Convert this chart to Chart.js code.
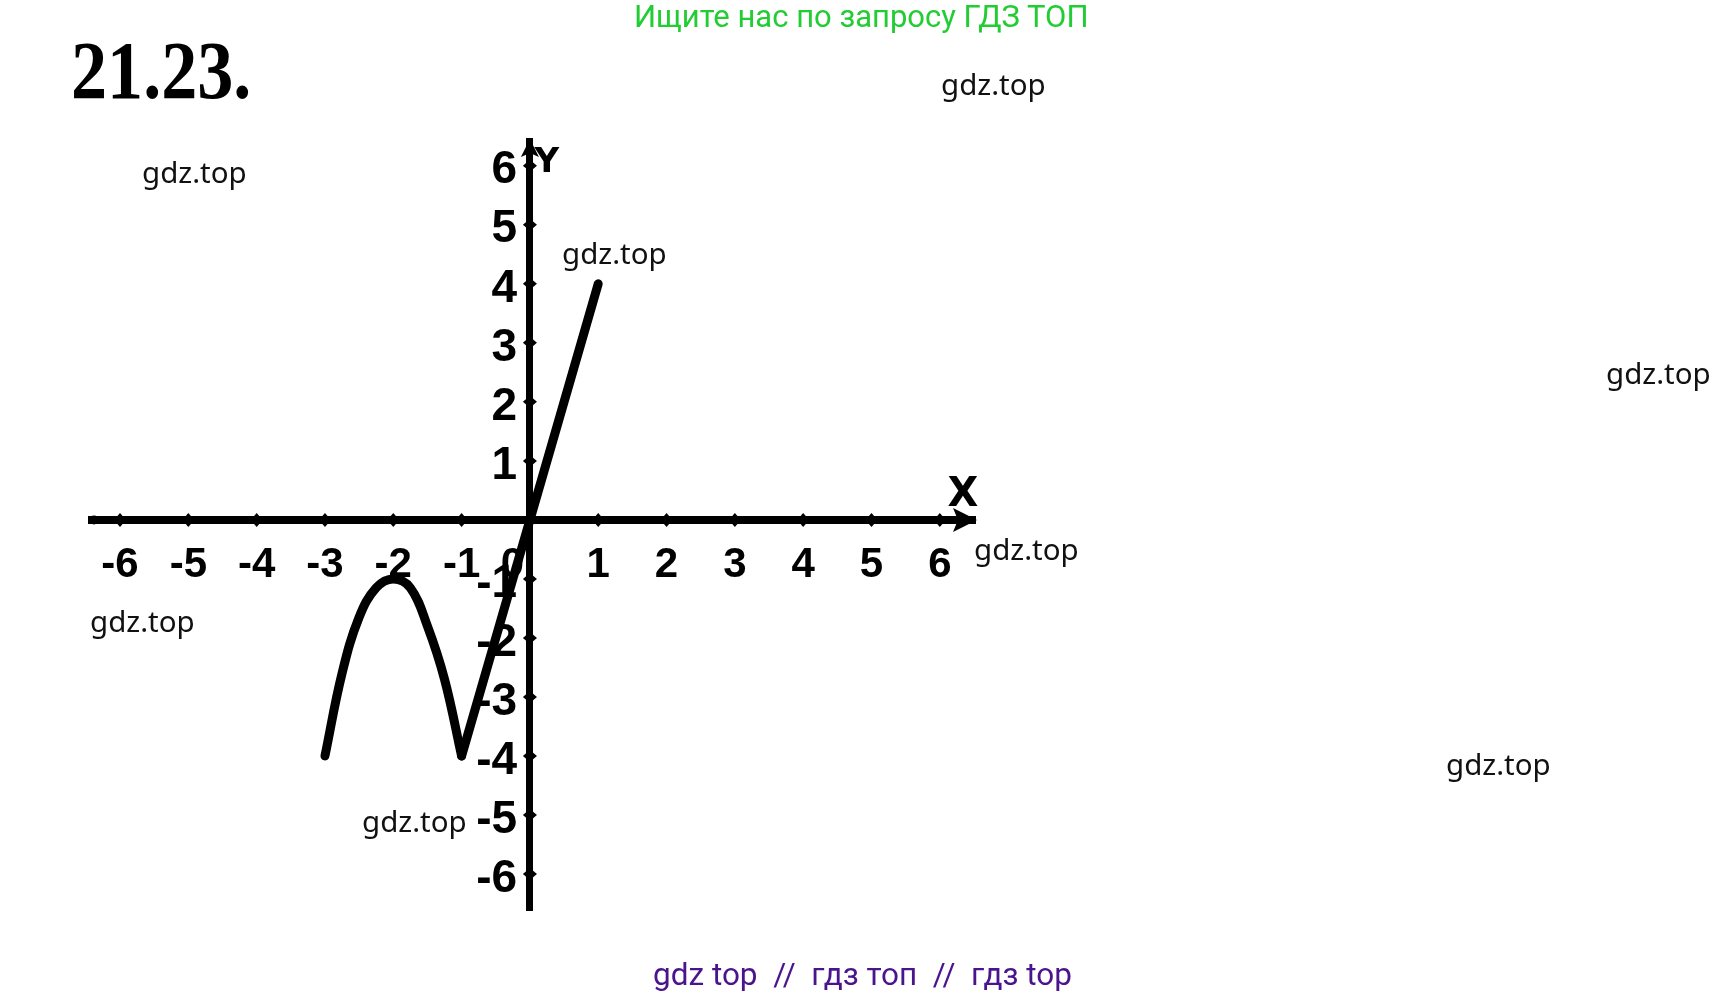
<!DOCTYPE html>
<html>
<head>
<meta charset="utf-8">
<script src="https://cdn.jsdelivr.net/npm/chart.js@4.4.1/dist/chart.umd.min.js"></script>
<style>
  html, body { margin: 0; padding: 0; background: #fff; }
  #wrap { position: relative; width: 1724px; height: 999px; overflow: hidden; background: #fff; }
  #wrap canvas { position: absolute; left: 0; top: 0; }
  .t { position: absolute; white-space: pre; line-height: normal; }
  .wm { font-family: "Noto Sans", sans-serif; font-size: 29.5px; color: #111; }
  #title { left: 71px; top: 29px; font-family: "Liberation Serif", serif; font-weight: bold; font-size: 82px; line-height: 84px; color: #000; transform-origin: left top; transform: scaleX(0.88); }
  #green { left: 634px; top: -2px; font-family: Roboto, sans-serif; font-size: 31px; color: #22cc33; }
  #purple { left: 653px; top: 956px; font-family: Roboto, sans-serif; font-size: 31.5px; color: #4a148c; }
</style>
</head>
<body>
<div id="wrap">
  <canvas id="c" width="1724" height="999"></canvas>
  <div class="t" id="title">21.23.</div>
  <div class="t" id="green">Ищите нас по запросу ГДЗ ТОП</div>
  <div class="t wm" style="left:941px;top:63px">gdz.top</div>
  <div class="t wm" style="left:142px;top:151px">gdz.top</div>
  <div class="t wm" style="left:562px;top:232px">gdz.top</div>
  <div class="t wm" style="left:1606px;top:352px">gdz.top</div>
  <div class="t wm" style="left:974px;top:528px">gdz.top</div>
  <div class="t wm" style="left:90px;top:600px">gdz.top</div>
  <div class="t wm" style="left:1446px;top:743px">gdz.top</div>
  <div class="t wm" style="left:362px;top:800px">gdz.top</div>
  <div class="t" id="purple">gdz top  //  гдз топ  //  гдз top</div>
</div>
<script>
// ---- data ----
const parabolaX = [-3, -2.75, -2.5, -2.25, -2, -1.75, -1.5, -1.25, -1];
const parabolaY = [-4, -2.6, -1.65, -1.15, -1, -1.15, -1.8, -2.7, -4];
const lineX = [-1, 0, 1];
const lineY = [-4, 0, 4];
const xTicks = [-6, -5, -4, -3, -2, -1, 0, 1, 2, 3, 4, 5, 6];
const yTicks = [-6, -5, -4, -3, -2, -1, 0, 1, 2, 3, 4, 5, 6];
const xLabels = ['-6', '-5', '-4', '-3', '-2', '-1', '0', '1', '2', '3', '4', '5', '6'];
const yLabels = ['-6', '-5', '-4', '-3', '-2', '-1', '', '1', '2', '3', '4', '5', '6'];
const axisNames = ['X', 'Y'];

const toPts = (xs, ys) => xs.map((x, i) => ({ x: x, y: ys[i] }));

const axisDecor = {
  id: 'axisDecor',
  beforeDatasetsDraw(chart) {
    const ctx = chart.ctx;
    const xs = chart.scales.x, ys = chart.scales.y;
    const ox = xs.getPixelForValue(0), oy = ys.getPixelForValue(0);
    ctx.save();
    ctx.fillStyle = '#000';
    xTicks.forEach(v => {
      if (v === 0) return;
      const px = xs.getPixelForValue(v);
      ctx.beginPath();
      ctx.moveTo(px - 6, oy); ctx.lineTo(px, oy - 7); ctx.lineTo(px + 6, oy); ctx.lineTo(px, oy + 7);
      ctx.closePath(); ctx.fill();
    });
    yTicks.forEach(v => {
      if (v === 0) return;
      const py = ys.getPixelForValue(v);
      ctx.beginPath();
      ctx.moveTo(ox - 7, py); ctx.lineTo(ox, py - 6); ctx.lineTo(ox + 7, py); ctx.lineTo(ox, py + 6);
      ctx.closePath(); ctx.fill();
    });
    const ca = chart.chartArea;
    ctx.beginPath();
    ctx.moveTo(ca.right + 2, oy);
    ctx.lineTo(ca.right - 22, oy - 12);
    ctx.lineTo(ca.right - 17, oy);
    ctx.lineTo(ca.right - 22, oy + 12);
    ctx.closePath(); ctx.fill();
    ctx.beginPath();
    ctx.moveTo(ox, ca.top - 2);
    ctx.lineTo(ox - 9, ca.top + 16);
    ctx.lineTo(ox, ca.top + 12);
    ctx.lineTo(ox + 9, ca.top + 16);
    ctx.closePath(); ctx.fill();
    ctx.beginPath(); ctx.arc(ca.left + 2, oy, 4.5, 0, Math.PI * 2); ctx.fill();
    ctx.textAlign = 'center'; ctx.textBaseline = 'middle';
    ctx.font = 'bold 40px "DejaVu Sans", sans-serif';
    ctx.fillText(axisNames[0], ca.right - 12, oy - 24);
    ctx.font = 'bold 34px "DejaVu Sans", sans-serif';
    ctx.fillText(axisNames[1], ox + 17, ca.top + 22);
    ctx.restore();
  }
};

new Chart(document.getElementById('c'), {
  type: 'scatter',
  data: {
    datasets: [
      { data: toPts(parabolaX, parabolaY), showLine: true, tension: 0.4, borderColor: '#000', borderWidth: 9, pointRadius: 0, borderCapStyle: 'round', borderJoinStyle: 'round' },
      { data: toPts(lineX, lineY), showLine: true, tension: 0, borderColor: '#000', borderWidth: 9, pointRadius: 0, borderCapStyle: 'round', borderJoinStyle: 'round' }
    ]
  },
  options: {
    responsive: false,
    animation: false,
    events: [],
    layout: { padding: { left: 92, right: 749, top: 141, bottom: 89 } },
    plugins: { legend: { display: false }, tooltip: { enabled: false } },
    scales: {
      x: {
        type: 'linear', min: -6.41, max: 6.515, position: { y: 0 },
        grid: { display: false },
        border: { display: true, color: '#000', width: 8 },
        afterBuildTicks: s => { s.ticks = xTicks.map(v => ({ value: v })); },
        ticks: {
          autoSkip: false, maxRotation: 0, padding: 12, color: '#000',
          font: { family: '"Liberation Sans", Arial, sans-serif', weight: 'bold', size: 42 },
          callback: (v) => { const s = xLabels[xTicks.indexOf(v)]; return v === 0 ? s + '   ' : s; }
        }
      },
      y: {
        type: 'linear', min: -6.61, max: 6.42, position: { x: 0 },
        grid: { display: false },
        border: { display: true, color: '#000', width: 7 },
        afterBuildTicks: s => { s.ticks = yTicks.map(v => ({ value: v })); },
        ticks: {
          autoSkip: false, padding: 8, labelOffset: 5, color: '#000',
          font: { family: '"Liberation Sans", Arial, sans-serif', weight: 'bold', size: 46 },
          callback: (v) => { const s = yLabels[yTicks.indexOf(v)]; return s ? s + ' ' : s; }
        }
      }
    }
  },
  plugins: [axisDecor]
});
</script>
</body>
</html>
